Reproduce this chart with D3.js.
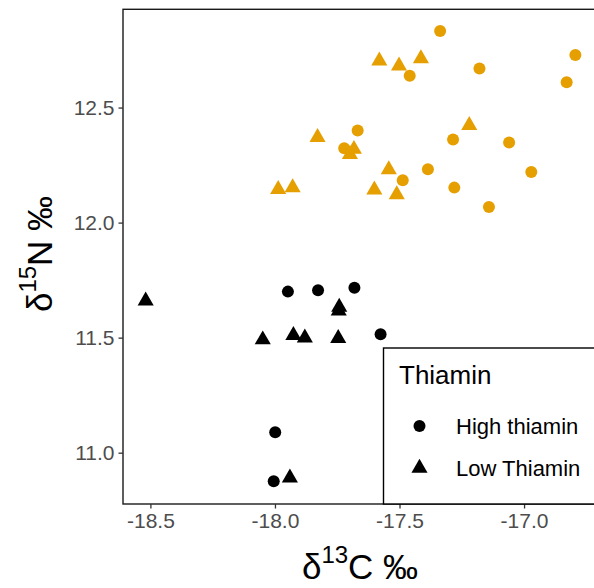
<!DOCTYPE html>
<html>
<head>
<meta charset="utf-8">
<script src="https://cdn.jsdelivr.net/npm/d3@7"></script>
<style>
  html, body { margin: 0; padding: 0; background: #fff; }
  svg { display: block; font-family: "Liberation Sans", Arial, sans-serif; }
</style>
</head>
<body>
<svg id="chart" width="594" height="588"></svg>
<script>
// ---- data ----
const xTicks = [-18.5, -18.0, -17.5, -17.0];
const xTickLabels = ["-18.5", "-18.0", "-17.5", "-17.0"];
const yTicks = [11.0, 11.5, 12.0, 12.5];
const yTickLabels = ["11.0", "11.5", "12.0", "12.5"];
const thiaminLevels = ["High thiamin", "Low Thiamin"];

// orange group, high thiamin (circles): [d13C, d15N]
const orangeHigh = [
  [-17.337, 12.833], [-17.179, 12.670], [-16.794, 12.728], [-16.829, 12.610],
  [-17.459, 12.638], [-17.668, 12.400], [-17.722, 12.323], [-17.285, 12.361],
  [-17.060, 12.348], [-17.386, 12.232], [-17.487, 12.184], [-16.971, 12.220],
  [-17.280, 12.152], [-17.141, 12.068]
];
// orange group, low thiamin (triangles)
const orangeLow = [
  [-17.581, 12.703], [-17.502, 12.681], [-17.414, 12.713], [-17.220, 12.423],
  [-17.829, 12.371], [-17.683, 12.319], [-17.699, 12.297], [-17.543, 12.230],
  [-17.987, 12.145], [-17.929, 12.152], [-17.601, 12.142], [-17.511, 12.122]
];
// black group, high thiamin (circles)
const blackHigh = [
  [-17.948, 11.700], [-17.827, 11.706], [-17.681, 11.717], [-17.576, 11.515],
  [-17.999, 11.089], [-18.005, 10.876]
];
// black group, low thiamin (triangles)
const blackLow = [
  [-18.519, 11.660], [-18.049, 11.491], [-17.926, 11.510], [-17.880, 11.499],
  [-17.746, 11.497], [-17.742, 11.633], [-17.744, 11.616], [-17.940, 10.891]
];
const groupColors = ["#E69F00", "#000000"];

// ---- layout ----
const svg = d3.select("#chart");
const panel = { left: 123, top: 9.3, right: 610, bottom: 504 };

const x = d3.scaleLinear().domain([-18.61, -16.655]).range([panel.left, panel.right]);
const y = d3.scaleLinear().domain([10.777, 12.927]).range([panel.bottom, panel.top]);

const circleR = 6;
const triR = 9.3;
const triPath = (r) => {
  const h = r * Math.sqrt(3) / 2;
  return `M0,${-r}L${h},${r / 2}L${-h},${r / 2}Z`;
};

// panel border (left, top, bottom visible; right is beyond the picture)
svg.append("rect")
  .attr("x", panel.left).attr("y", panel.top)
  .attr("width", panel.right - panel.left).attr("height", panel.bottom - panel.top)
  .attr("fill", "none").attr("stroke", "#1a1a1a").attr("stroke-width", 1.4);

// axes
const tickFont = 21;
const xAxis = d3.axisBottom(x).tickValues(xTicks)
  .tickFormat((d, i) => xTickLabels[i]).tickSize(4.5).tickPadding(5);
const gx = svg.append("g").attr("transform", `translate(0,${panel.bottom})`).call(xAxis);
gx.select(".domain").remove();
gx.selectAll(".tick line").attr("stroke", "#333").attr("stroke-width", 1.3);
gx.selectAll(".tick text").attr("fill", "#4D4D4D").attr("font-size", tickFont)
  .attr("font-family", "Liberation Sans, Arial, sans-serif");

const yAxis = d3.axisLeft(y).tickValues(yTicks)
  .tickFormat((d, i) => yTickLabels[i]).tickSize(4.5).tickPadding(4);
const gy = svg.append("g").attr("transform", `translate(${panel.left},0)`).call(yAxis);
gy.select(".domain").remove();
gy.selectAll(".tick line").attr("stroke", "#333").attr("stroke-width", 1.3);
gy.selectAll(".tick text").attr("fill", "#4D4D4D").attr("font-size", tickFont)
  .attr("font-family", "Liberation Sans, Arial, sans-serif");

// points
const plot = svg.append("g");
function drawCircles(data, color) {
  plot.selectAll(null).data(data).enter().append("circle")
    .attr("cx", d => x(d[0])).attr("cy", d => y(d[1]))
    .attr("r", circleR).attr("fill", color);
}
function drawTriangles(data, color) {
  plot.selectAll(null).data(data).enter().append("path")
    .attr("d", triPath(triR))
    .attr("transform", d => `translate(${x(d[0])},${y(d[1])})`)
    .attr("fill", color);
}
drawCircles(orangeHigh, groupColors[0]);
drawTriangles(orangeLow, groupColors[0]);
drawCircles(blackHigh, groupColors[1]);
drawTriangles(blackLow, groupColors[1]);

// axis titles
const titleFont = 35, supFont = 24, supShift = 16;
const xt = svg.append("text").attr("x", 360).attr("y", 579)
  .attr("text-anchor", "middle").attr("font-size", titleFont).attr("fill", "#000");
xt.append("tspan").text("δ");
xt.append("tspan").attr("font-size", supFont).attr("dy", -supShift).text("13");
xt.append("tspan").attr("dy", supShift).text("C ‰");

const yt = svg.append("text")
  .attr("transform", `translate(52,254) rotate(-90)`)
  .attr("text-anchor", "middle").attr("font-size", titleFont).attr("fill", "#000");
yt.append("tspan").text("δ");
yt.append("tspan").attr("font-size", supFont).attr("dy", -supShift).text("15");
yt.append("tspan").attr("dy", supShift).text("N ‰");

// legend
const lg = svg.append("g");
lg.append("rect").attr("x", 383.5).attr("y", 348).attr("width", 240).attr("height", 156)
  .attr("fill", "#fff").attr("stroke", "#000").attr("stroke-width", 1.4);
lg.append("text").attr("x", 399).attr("y", 384).attr("font-size", 26).attr("fill", "#000")
  .text("Thiamin");
lg.append("circle").attr("cx", 419.5).attr("cy", 426).attr("r", circleR).attr("fill", "#000");
lg.append("path").attr("d", triPath(triR)).attr("transform", "translate(419.5,468)").attr("fill", "#000");
lg.append("text").attr("x", 456).attr("y", 434).attr("font-size", 22).attr("fill", "#000")
  .text(thiaminLevels[0]);
lg.append("text").attr("x", 456).attr("y", 476).attr("font-size", 22).attr("fill", "#000")
  .text(thiaminLevels[1]);
</script>
</body>
</html>
